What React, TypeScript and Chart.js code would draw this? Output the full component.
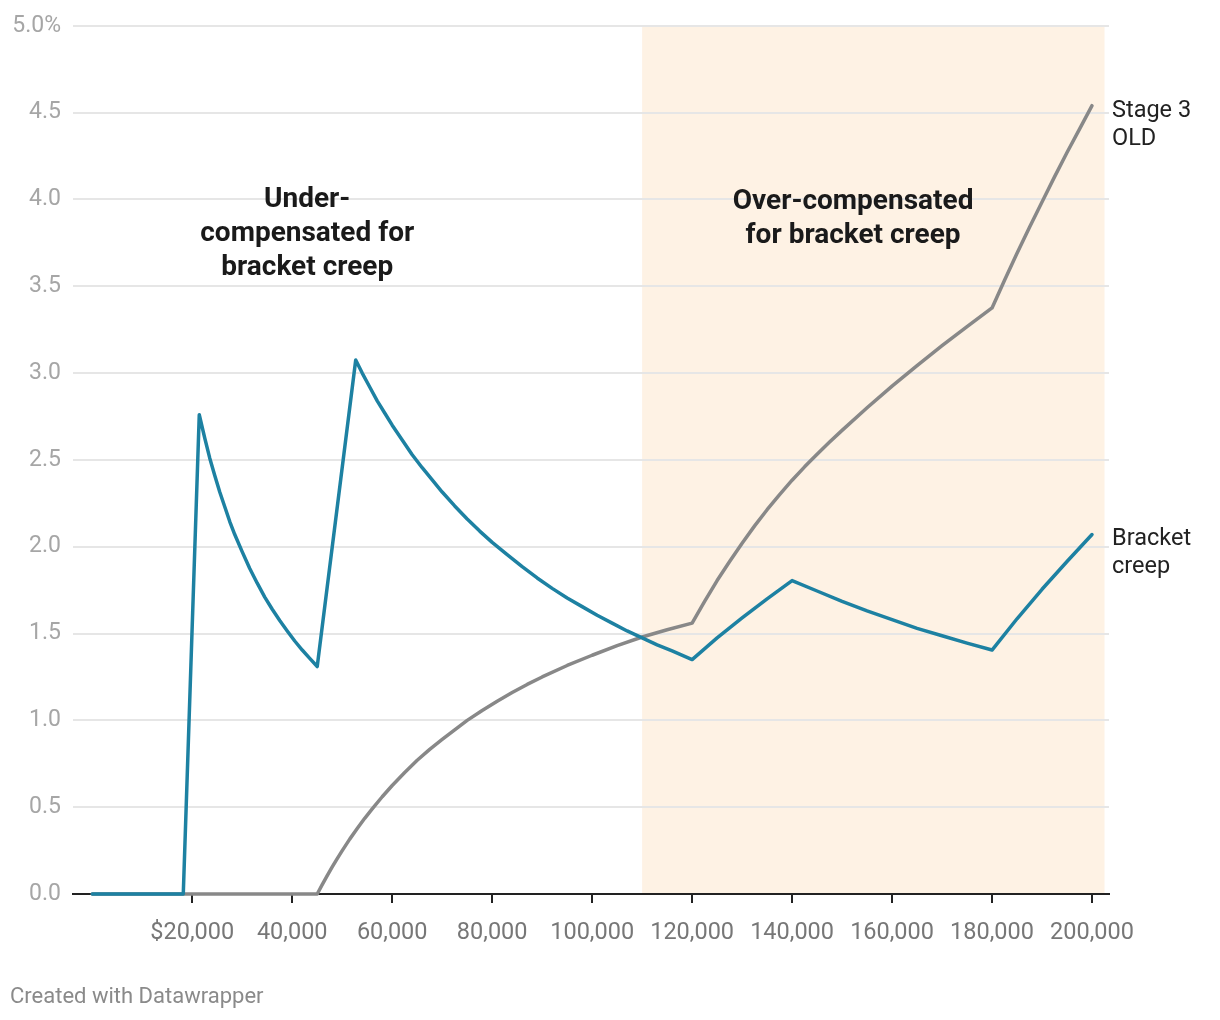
import React, { useEffect, useRef } from "react";
import { Chart, registerables } from "chart.js";

Chart.register(...registerables);

// ---- data ----
const bracketIncome = [
  0, 18200, 21400, 22500, 23500, 24500, 25500, 26500, 27500, 28500, 30000, 31500, 33000, 34500, 36000, 37500, 39000, 40500, 42000, 43500, 45000,
  52700, 54000, 55500, 57000, 58500, 60000, 62000, 64000, 66000, 68000, 70000, 72500, 75000, 77500, 80000, 83000, 86000, 89000, 92000, 95000, 98000, 101000, 104000, 107000, 110000, 113000, 116000, 120000,
  125000, 130000, 135000, 140000, 145000, 150000, 155000, 160000, 165000, 170000, 175000, 180000, 185000, 190000, 195000, 200000,
];
const bracketCreep = [
  0, 0, 2.76, 2.625, 2.51, 2.41, 2.315, 2.23, 2.145, 2.07, 1.97, 1.875, 1.79, 1.71, 1.64, 1.575, 1.515, 1.457, 1.405, 1.357, 1.31,
  3.075, 3.0, 2.92, 2.84, 2.77, 2.7, 2.615, 2.53, 2.455, 2.385, 2.315, 2.235, 2.16, 2.09, 2.025, 1.955, 1.885, 1.82, 1.76, 1.705, 1.655, 1.605, 1.56, 1.515, 1.475, 1.435, 1.4, 1.35,
  1.475, 1.59, 1.7, 1.805, 1.745, 1.685, 1.63, 1.58, 1.53, 1.487, 1.445, 1.405, 1.585, 1.755, 1.915, 2.07,
];

const stage3Income = [
  0, 45000, 46000, 47000, 48000, 49000, 50000, 51500, 53000, 54500, 56000, 58000, 60000, 62500, 65000, 67500, 70000, 72500, 75000, 78000, 81000, 84000, 87000, 90000, 95000, 100000, 105000, 110000, 115000, 120000,
  122500, 125000, 127500, 130000, 132500, 135000, 137500, 140000, 142500, 145000, 147500, 150000, 155000, 160000, 165000, 170000, 175000, 180000,
  182500, 185000, 187500, 190000, 192500, 195000, 197500, 200000,
];
const stage3Old = [
  0, 0, 0.054, 0.106, 0.156, 0.204, 0.25, 0.316, 0.377, 0.436, 0.49, 0.56, 0.625, 0.7, 0.77, 0.833, 0.89, 0.945, 1.0, 1.057, 1.11, 1.16, 1.207, 1.25, 1.316, 1.375, 1.43, 1.48, 1.522, 1.56,
  1.685, 1.805, 1.915, 2.02, 2.12, 2.213, 2.3, 2.383, 2.46, 2.533, 2.603, 2.67, 2.8, 2.925, 3.043, 3.158, 3.268, 3.375,
  3.535, 3.69, 3.84, 3.985, 4.13, 4.27, 4.405, 4.54,
];

const xTicks = [20000, 40000, 60000, 80000, 100000, 120000, 140000, 160000, 180000, 200000];
const yTicks = [0, 0.5, 1, 1.5, 2, 2.5, 3, 3.5, 4, 4.5, 5];

const seriesNames = ["Bracket creep", "Stage 3 OLD"];
const seriesLabelLines = [["Bracket", "creep"], ["Stage 3", "OLD"]];
const shadeRange = [110000, 202500];
const underText = ["Under-", "compensated for", "bracket creep"];
const overText = ["Over-compensated", "for bracket creep"];
const underAnchor = [43000, 3.994];
const overAnchor = [152200, 3.983];
const footerText = "Created with Datawrapper";

const BLUE = "#1d81a2";
const GREY = "#888888";
const FONT = "Roboto, 'Noto Sans', sans-serif";

export default function App() {
  const ref = useRef<HTMLCanvasElement | null>(null);

  useEffect(() => {
    document.body.style.margin = "0";
    const canvas = ref.current;
    if (!canvas) return;

    const decor = {
      id: "decor",
      beforeDraw(chart: any) {
        const { ctx, chartArea, scales } = chart;
        const x0 = scales.x.getPixelForValue(shadeRange[0]);
        const x1 = scales.x.getPixelForValue(shadeRange[1]);
        ctx.save();
        ctx.fillStyle = "#fef2e4";
        ctx.fillRect(x0, chartArea.top, x1 - x0, chartArea.bottom - chartArea.top);
        ctx.restore();
      },
      afterDraw(chart: any) {
        const { ctx, scales } = chart;
        ctx.save();
        // annotations
        ctx.fillStyle = "#1a1a1a";
        ctx.font = `bold 28px ${FONT}`;
        ctx.textAlign = "center";
        ctx.textBaseline = "middle";
        const ux = scales.x.getPixelForValue(underAnchor[0]);
        const uy = scales.y.getPixelForValue(underAnchor[1]);
        underText.forEach((t, i) => ctx.fillText(t, ux, uy + i * 34));
        const ox = scales.x.getPixelForValue(overAnchor[0]);
        const oy = scales.y.getPixelForValue(overAnchor[1]);
        overText.forEach((t, i) => ctx.fillText(t, ox, oy + i * 34));

        // line labels
        ctx.font = `23.5px ${FONT}`;
        ctx.fillStyle = "#222";
        ctx.textAlign = "left";
        chart.data.datasets.forEach((ds: any, di: number) => {
          const meta = chart.getDatasetMeta(di);
          const pt = meta.data[meta.data.length - 1];
          seriesLabelLines[di].forEach((t, i) => ctx.fillText(t, pt.x + 20, pt.y + 5 + i * 28));
        });

        // footer
        ctx.font = `22px ${FONT}`;
        ctx.fillStyle = "#8a8a8a";
        ctx.textAlign = "left";
        ctx.fillText(footerText, 10, 997);
        ctx.restore();
      },
    };

    const chart = new Chart(canvas, {
      type: "line",
      data: {
        datasets: [
          {
            label: seriesNames[0],
            data: bracketIncome.map((x, i) => ({ x, y: bracketCreep[i] })),
            borderColor: BLUE,
            borderWidth: 3.5,
            pointRadius: 0,
            borderJoinStyle: "round",
            borderCapStyle: "round",
            tension: 0,
            clip: false as any,
          },
          {
            label: seriesNames[1],
            data: stage3Income.map((x, i) => ({ x, y: stage3Old[i] })),
            borderColor: GREY,
            borderWidth: 3.5,
            pointRadius: 0,
            borderJoinStyle: "round",
            borderCapStyle: "round",
            tension: 0,
            clip: false as any,
          },
        ],
      },
      options: {
        responsive: false,
        animation: false,
        events: [],
        layout: { padding: { top: 24, right: 111, bottom: 0, left: 0 } },
        plugins: { legend: { display: false }, tooltip: { enabled: false } },
        scales: {
          x: {
            type: "linear",
            min: -3860,
            max: 203400,
            afterBuildTicks: (s: any) => {
              s.ticks = xTicks.map((v) => ({ value: v }));
            },
            afterFit: (s: any) => {
              s.height = 126;
            },
            ticks: {
              autoSkip: false,
              maxRotation: 0,
              padding: 16,
              color: "#777",
              font: { family: FONT, size: 23.5 },
              callback: (v: any) =>
                (Number(v) === xTicks[0] ? "$" : "") + Number(v).toLocaleString("en-US"),
            },
            grid: { drawOnChartArea: false, drawTicks: true, tickLength: 9, color: "#222", lineWidth: 2 },
            border: { display: true, color: "#222", width: 2 },
          },
          y: {
            type: "linear",
            min: 0,
            max: 5,
            afterBuildTicks: (s: any) => {
              s.ticks = yTicks.map((v) => ({ value: v }));
            },
            afterFit: (s: any) => {
              s.width = 73;
            },
            ticks: {
              padding: 12,
              color: "#a6a6a6",
              font: { family: FONT, size: 23 },
              callback: (v: any) =>
                Number(v).toFixed(1) + (Number(v) === yTicks[yTicks.length - 1] ? "%" : ""),
            },
            grid: { drawTicks: false, color: "#e6e6e6", lineWidth: 2 },
            border: { display: false },
          },
        },
      },
      plugins: [decor],
    } as any);

    return () => chart.destroy();
  }, []);

  return (
    <div style={{ width: 1220, height: 1020, position: "relative", background: "#fff" }}>
      <canvas ref={ref} width={1220} height={1020} style={{ display: "block" }} />
    </div>
  );
}
